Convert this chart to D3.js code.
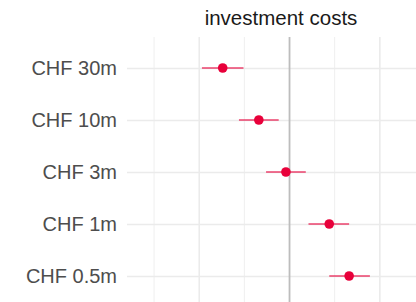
<!DOCTYPE html>
<html>
<head>
<meta charset="utf-8">
<script src="https://cdn.jsdelivr.net/npm/d3@7"></script>
<style>
  body { margin: 0; background: #fff; }
  svg { display: block; font-family: "Liberation Sans", Arial, sans-serif; }
</style>
</head>
<body>
<div id="chart"></div>
<script>
// Chart data
const categories = ['CHF 30m', 'CHF 10m', 'CHF 3m', 'CHF 1m', 'CHF 0.5m'];
const estimates = [-0.074, -0.034, -0.004, 0.044, 0.066];
const lowerBounds = [-0.097, -0.056, -0.026, 0.021, 0.044];
const upperBounds = [-0.051, -0.012, 0.018, 0.066, 0.089];
const majorTicks = [-0.1, 0, 0.1];
const minorTicks = [-0.15, -0.05, 0.05];

const width = 416;
const height = 302;
const margin = { top: 37, right: -18, bottom: -10, left: 127 };

const svg = d3.select('#chart')
    .append('svg')
    .attr('width', width)
    .attr('height', height);

// Scales
const x = d3.scaleLinear()
    .domain([-0.18, 0.16])
    .range([margin.left, width - margin.right]);

const y = d3.scalePoint()
    .domain(categories)
    .range([68, 276]);

const panelBottom = height - margin.bottom;

// Vertical grid lines (minor then major)
svg.selectAll('.minor-grid')
    .data(minorTicks)
    .enter()
    .append('line')
    .attr('x1', d => x(d))
    .attr('x2', d => x(d))
    .attr('y1', margin.top)
    .attr('y2', panelBottom)
    .attr('stroke', '#efefef')
    .attr('stroke-width', 1);

svg.selectAll('.major-grid')
    .data(majorTicks.filter(d => d !== 0))
    .enter()
    .append('line')
    .attr('x1', d => x(d))
    .attr('x2', d => x(d))
    .attr('y1', margin.top)
    .attr('y2', panelBottom)
    .attr('stroke', '#ebebeb')
    .attr('stroke-width', 1.6);

// Horizontal grid lines with left ticks
svg.append('g')
    .attr('transform', `translate(${margin.left},0)`)
    .call(d3.axisLeft(y).tickSize(-(width - margin.left)).tickPadding(10))
    .call(g => g.select('.domain').remove())
    .call(g => g.selectAll('.tick line')
        .attr('stroke', '#ebebeb')
        .attr('stroke-width', 1.6))
    .call(g => g.selectAll('.tick text')
        .attr('fill', '#4d4d4d')
        .style('font-size', '20px')
        .style('font-family', '"Liberation Sans", Arial, sans-serif'));

// Zero reference line
svg.append('line')
    .attr('x1', x(0))
    .attr('x2', x(0))
    .attr('y1', margin.top)
    .attr('y2', panelBottom)
    .attr('stroke', '#bdbdbd')
    .attr('stroke-width', 1.8);

// Error bars
svg.selectAll('.err')
    .data(categories)
    .enter()
    .append('line')
    .attr('class', 'err')
    .attr('x1', (d, i) => x(lowerBounds[i]))
    .attr('x2', (d, i) => x(upperBounds[i]))
    .attr('y1', d => y(d))
    .attr('y2', d => y(d))
    .attr('stroke', '#e8003a')
    .attr('stroke-opacity', 0.55)
    .attr('stroke-width', 1.8);

// Points
svg.selectAll('.pt')
    .data(categories)
    .enter()
    .append('circle')
    .attr('class', 'pt')
    .attr('cx', (d, i) => x(estimates[i]))
    .attr('cy', d => y(d))
    .attr('r', 4.8)
    .attr('fill', '#e8003a');

// Title
svg.append('text')
    .attr('x', 281)
    .attr('y', 25)
    .attr('text-anchor', 'middle')
    .style('font-size', '20.5px')
    .style('fill', '#1a1a1a')
    .text('investment costs');
</script>
</body>
</html>
